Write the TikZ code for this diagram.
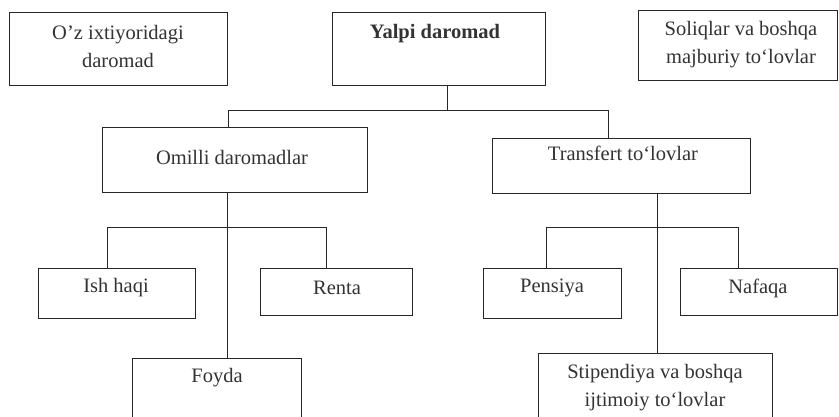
\documentclass[tikz,border=0pt]{standalone}
\usepackage{fontspec}
\setmainfont{Liberation Serif}
\begin{document}
\begin{tikzpicture}[x=1pt,y=-1pt,
  box/.style={draw=black!85, line width=0.8pt, anchor=north west, inner sep=0pt},
  lbl/.style={font=\fontsize{20.5}{28}\selectfont, text=black!80, align=center, inner sep=0pt},
  conn/.style={draw=black!85, line width=0.8pt}]
\useasboundingbox (0,0) rectangle (839,417);
\clip (0,0) rectangle (839,417);
% boxes
\node[box, minimum width=218pt, minimum height=73pt] (ozb) at (9,12) {};
\node[box, minimum width=213pt, minimum height=73pt] (yalpi) at (332,12) {};
\node[box, minimum width=199pt, minimum height=70pt] (soliq) at (638,10) {};
\node[box, minimum width=265pt, minimum height=65pt] (omilli) at (102,127) {};
\node[box, minimum width=258pt, minimum height=55pt] (transfert) at (492,138) {};
\node[box, minimum width=157pt, minimum height=50pt] (ish) at (38,268) {};
\node[box, minimum width=152pt, minimum height=47pt] (renta) at (260,268) {};
\node[box, minimum width=169pt, minimum height=75pt] (foyda) at (132,358) {};
\node[box, minimum width=138pt, minimum height=50pt] (pensiya) at (483,268) {};
\node[box, minimum width=157pt, minimum height=47pt] (nafaqa) at (680,268) {};
\node[box, minimum width=234pt, minimum height=80pt] (stip) at (538,353) {};
% labels
\node[lbl] (tozb) at (118,46) {O’z ixtiyoridagi\\daromad};
\node[lbl, font=\fontsize{20.5}{28}\selectfont\bfseries] (tyalpi) at (435,34) {Yalpi daromad};
\node[lbl] (tsoliq) at (741,45) {Soliqlar va boshqa\\majburiy to‘lovlar};
\node[lbl] (tomilli) at (232,157) {Omilli daromadlar};
\node[lbl] (ttransfert) at (623,153) {Transfert to‘lovlar};
\node[lbl] (tish) at (116,288) {Ish haqi};
\node[lbl] (trenta) at (337,288) {Renta};
\node[lbl] (tpensiya) at (552,288) {Pensiya};
\node[lbl] (tnafaqa) at (758,288) {Nafaqa};
\node[lbl] (tfoyda) at (217,378) {Foyda};
\node[lbl] (tstip) at (655,388) {Stipendiya va boshqa\\ijtimoiy to‘lovlar};
% junctions
\coordinate (tM) at (447,110);
\coordinate (tL) at (228,110);
\coordinate (tR) at (608,110);
\coordinate (oM) at (227,227);
\coordinate (oL) at (107,227);
\coordinate (oR) at (326,227);
\coordinate (rM) at (657,227);
\coordinate (rL) at (546,227);
\coordinate (rR) at (738,227);
% connectors
\draw[conn] (yalpi.south -| tM) -- (tM);
\draw[conn] (tL) -- (tR);
\draw[conn] (tL) -- (tL |- omilli.north);
\draw[conn] (tR) -- (tR |- transfert.north);
\draw[conn] (omilli.south -| oM) -- (oM);
\draw[conn] (oL) -- (oR);
\draw[conn] (oL) -- (oL |- ish.north);
\draw[conn] (oR) -- (oR |- renta.north);
\draw[conn] (oM) -- (oM |- foyda.north);
\draw[conn] (transfert.south -| rM) -- (rM);
\draw[conn] (rL) -- (rR);
\draw[conn] (rL) -- (rL |- pensiya.north);
\draw[conn] (rR) -- (rR |- nafaqa.north);
\draw[conn] (rM) -- (rM |- stip.north);
\end{tikzpicture}
\end{document}
